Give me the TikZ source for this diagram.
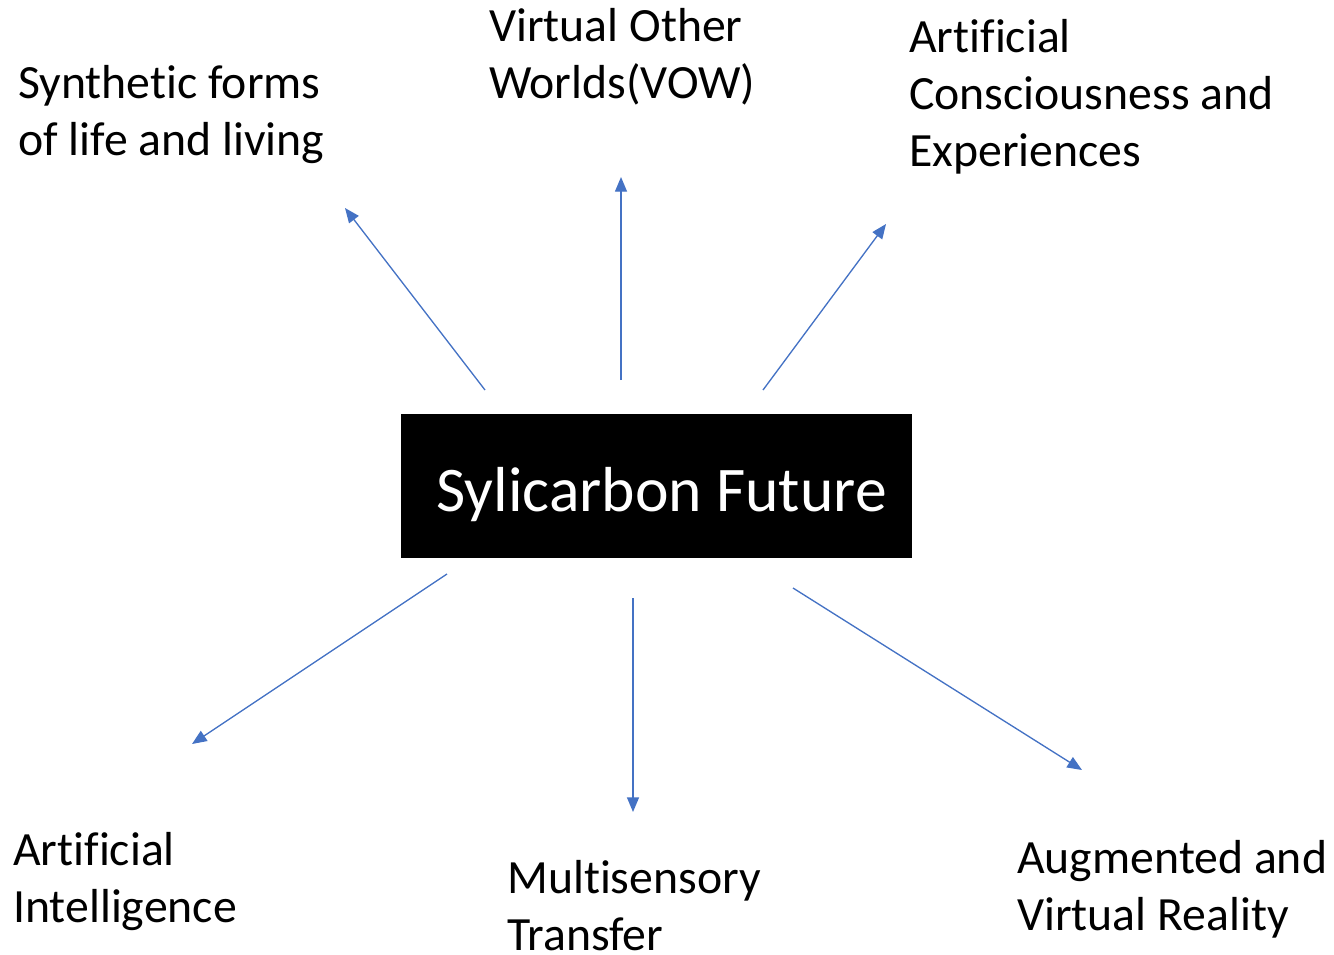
\documentclass[tikz,border=0pt]{standalone}
\usepackage{fontspec}
\setmainfont{Carlito}[Ligatures={NoCommon}]
\usetikzlibrary{arrows.meta}
\definecolor{arrowblue}{HTML}{4472C4}
\begin{document}
\begin{tikzpicture}[x=0.75pt,y=-0.75pt,
  label/.style={anchor=north west,inner sep=0pt,align=left,font=\fontsize{35.8}{42.8}\selectfont},
  conn/.style={draw=arrowblue,line width=1pt,-{Triangle[length=11pt,width=9pt]}},
  core/.style={fill=black,minimum width=383pt,minimum height=108pt,inner sep=0pt}]
\useasboundingbox (0,0) rectangle (1334,954);
\node[core] (c) at (656.5,486) {};
\node[text=white,font=\fontsize{47.7}{56}\selectfont,anchor=west,inner sep=0pt] (ct) at (436,495) {Sylicarbon Future};
\node[label] (l1) at (18,65) {Synthetic forms\\of life and living};
\node[label] (l2) at (489,8) {Virtual Other\\Worlds(VOW)};
\node[label] (l3) at (909,19) {Artificial\\Consciousness and\\Experiences};
\node[label] (l4) at (13,832) {Artificial\\Intelligence};
\node[label] (l5) at (507,860) {Multisensory\\Transfer};
\node[label] (l6) at (1017,840) {Augmented and\\Virtual Reality};
\coordinate (s1) at (485,390); \coordinate (e1) at (345,208);
\coordinate (s2) at (621,380); \coordinate (e2) at (621,177);
\coordinate (s3) at (763,390); \coordinate (e3) at (886,224);
\coordinate (s4) at (447,574); \coordinate (e4) at (192,744);
\coordinate (s5) at (633,598); \coordinate (e5) at (633,812);
\coordinate (s6) at (793,588); \coordinate (e6) at (1082,770);
\draw[conn] (s1) -- (e1);
\draw[conn] (s2) -- (e2);
\draw[conn] (s3) -- (e3);
\draw[conn] (s4) -- (e4);
\draw[conn] (s5) -- (e5);
\draw[conn] (s6) -- (e6);
\end{tikzpicture}
\end{document}
